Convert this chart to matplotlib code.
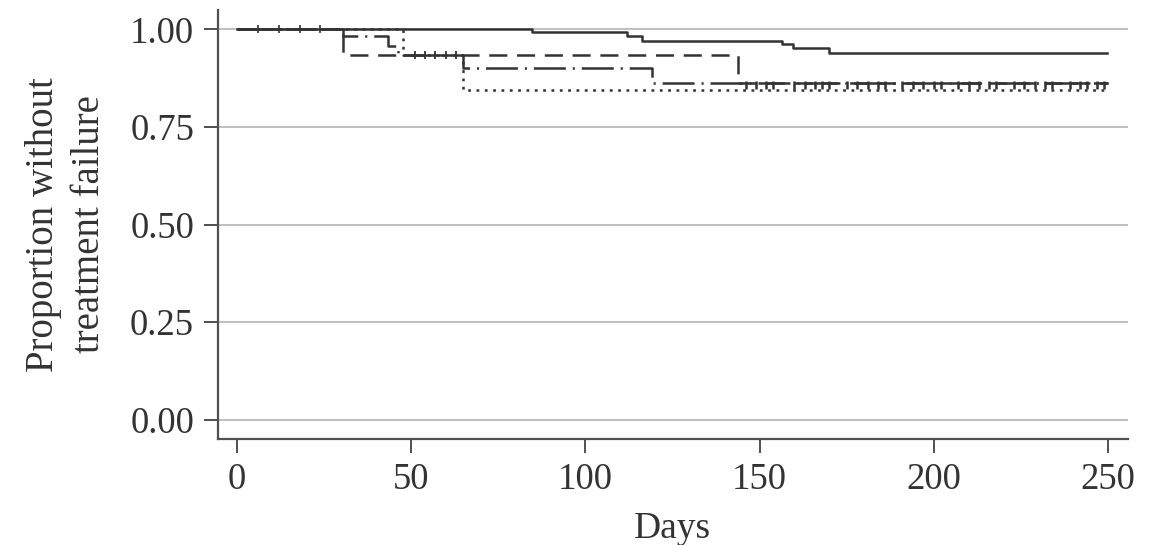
import matplotlib.pyplot as plt
from matplotlib import rcParams

rcParams["font.family"] = ["Liberation Serif", "DejaVu Serif"]
rcParams["lines.scale_dashes"] = False

LINE = "#333333"
GRID = "#b4b4b4"
SPINE = "#505050"

# step curves (time of change, survival proportion)
solid_days = [0, 84.7, 111.9, 116.2, 156.4, 159.6, 170.0, 249.7]
solid_surv = [1.00, 0.994, 0.983, 0.971, 0.962, 0.951, 0.940, 0.940]

dashed_days = [0, 30.4, 143.8, 250.0]
dashed_surv = [1.00, 0.934, 0.862, 0.862]

dashdot_days = [0, 30.4, 43.3, 46.2, 64.9, 119.1, 250.0]
dashdot_surv = [1.00, 0.982, 0.958, 0.934, 0.900, 0.862, 0.862]

dotted_days = [0, 47.6, 64.9, 250.0]
dotted_surv = [1.00, 0.934, 0.845, 0.845]

# censoring marks
cens_top_days = [6, 12, 18, 23.8]
cens_mid_days = [51, 54, 57, 60, 63]
cens_low_days = [146, 149, 152, 154, 160, 163, 166, 168, 170, 175, 178, 181, 184,
                 186, 191, 194, 197, 200, 202, 207, 210, 213, 216, 218, 223, 226,
                 229, 232, 234, 239, 242, 244, 247, 249]

YTICKS = [0.00, 0.25, 0.50, 0.75, 1.00]
XTICKS = [0, 50, 100, 150, 200, 250]

fig = plt.figure(figsize=(11.52, 5.45), dpi=100)
ax = fig.add_axes([0.189, 0.194, 0.790, 0.788])

for y in YTICKS:
    ax.axhline(y, color=GRID, linewidth=1.2, zorder=0)

ax.step(solid_days, solid_surv, where="post", color=LINE, linewidth=1.8)
ax.step(dashed_days, dashed_surv, where="post", color=LINE, linewidth=1.8,
        linestyle=(0, (13, 7)))
ax.step(dashdot_days, dashdot_surv, where="post", color=LINE, linewidth=1.8,
        linestyle=(0, (23, 5, 1.5, 5)))
ax.step(dotted_days, dotted_surv, where="post", color=LINE, linewidth=1.8,
        linestyle=(0, (2, 4)))

ax.plot(cens_top_days, [1.0] * len(cens_top_days), linestyle="none", marker="|",
        markersize=6, color=LINE, markeredgewidth=1.2)
ax.plot(cens_mid_days, [0.934] * len(cens_mid_days), linestyle="none", marker="|",
        markersize=6, color=LINE, markeredgewidth=1.3)
ax.plot(cens_low_days, [0.858] * len(cens_low_days), linestyle="none", marker="|",
        markersize=6, color=LINE, markeredgewidth=1.8)

ax.set_xlim(-5.5, 255.7)
ax.set_ylim(-0.05, 1.05)
ax.set_xticks(XTICKS)
ax.set_yticks(YTICKS)
ax.set_yticklabels([f"{v:.2f}" for v in YTICKS])

ax.spines["top"].set_visible(False)
ax.spines["right"].set_visible(False)
for side in ("left", "bottom"):
    ax.spines[side].set_color(SPINE)
    ax.spines[side].set_linewidth(1.6)
ax.tick_params(axis="both", direction="out", length=10, width=1.4, color=SPINE,
               labelsize=26.5, labelcolor="#333333", pad=7)

ax.set_xlabel("Days", fontsize=27, color="#333333", labelpad=10)
ax.set_ylabel("Proportion without\ntreatment failure", fontsize=28,
              color="#333333", labelpad=16, linespacing=1.3)

fig.savefig("out.png", dpi=100)
